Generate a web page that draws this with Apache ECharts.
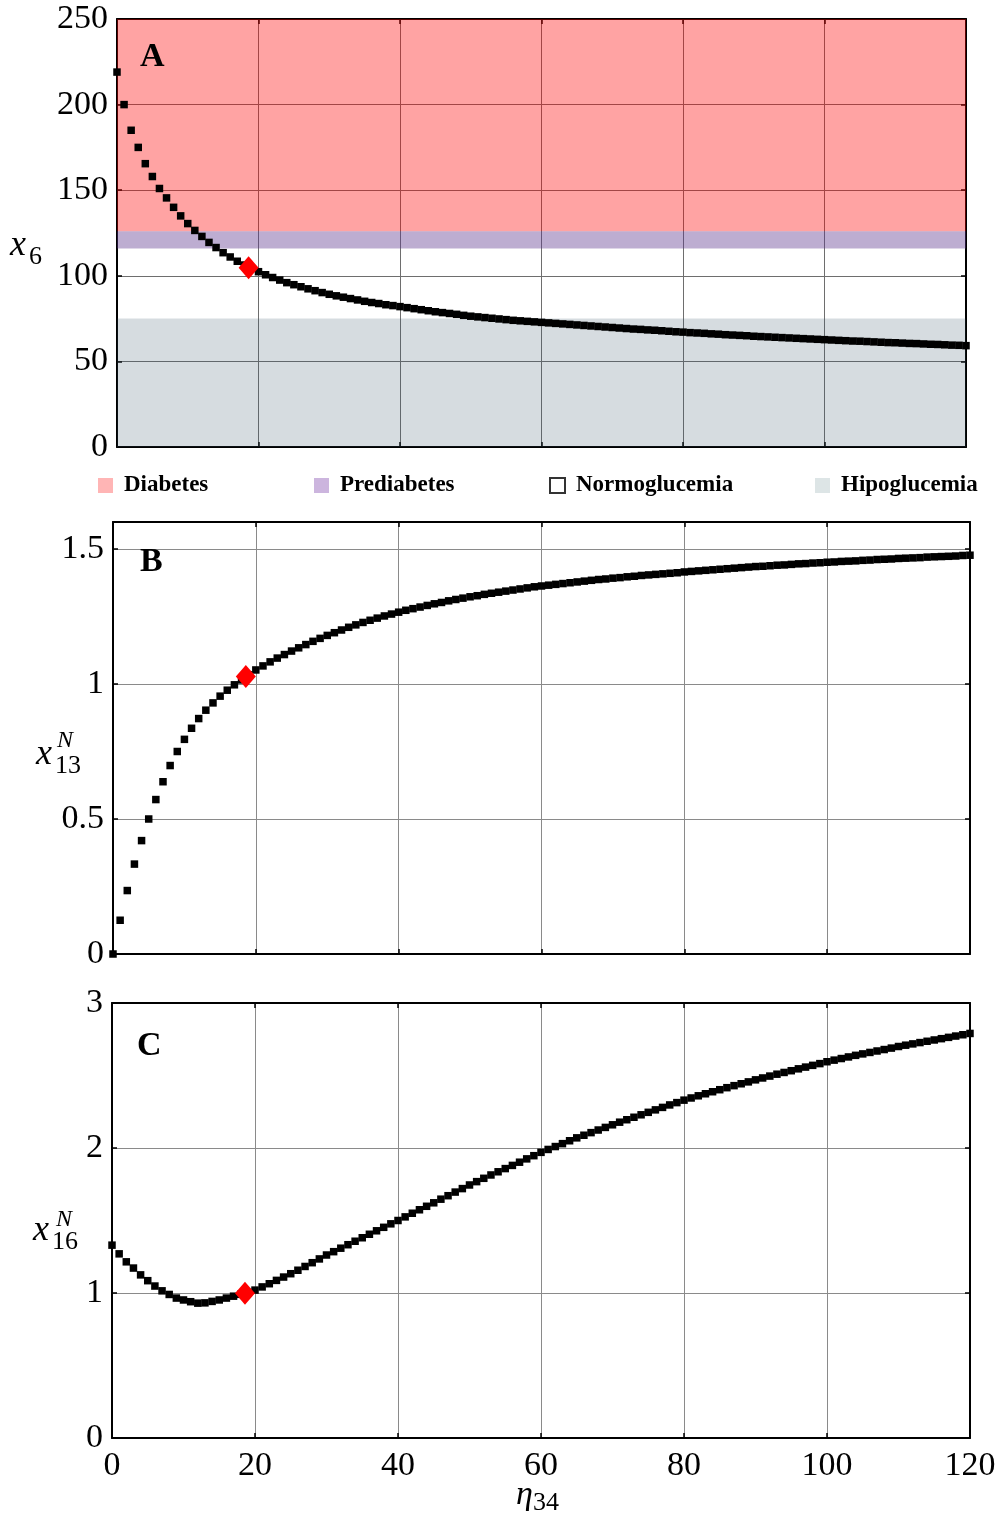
<!DOCTYPE html>
<html>
<head>
<meta charset="utf-8">
<script src="https://cdn.jsdelivr.net/npm/echarts@6/dist/echarts.min.js"></script>
<style>
html,body{margin:0;padding:0;background:#fff;}
#chart{width:1000px;height:1517px;}
</style>
</head>
<body>
<div id="chart"></div>
<script>
// ---------------- DATA ----------------
var eta = [
  0,1,2,3,4,5,6,7,8,9,
  10,11,12,13,14,15,16,17,18,19,
  20,21,22,23,24,25,26,27,28,29,
  30,31,32,33,34,35,36,37,38,39,
  40,41,42,43,44,45,46,47,48,49,
  50,51,52,53,54,55,56,57,58,59,
  60,61,62,63,64,65,66,67,68,69,
  70,71,72,73,74,75,76,77,78,79,
  80,81,82,83,84,85,86,87,88,89,
  90,91,92,93,94,95,96,97,98,99,
  100,101,102,103,104,105,106,107,108,109,
  110,111,112,113,114,115,116,117,118,119,120
];
var x6 = [
  219,200,185,175,165.5,158,151,145.5,140,135,
  130.5,126.5,123,119.5,116.5,113.5,111,108.5,106.3,104.3,
  102.4,100.6,99,97.5,96,94.8,93.6,92.4,91.3,90.2,
  89.2,88.3,87.5,86.7,85.9,85.1,84.4,83.8,83.1,82.6,
  82.0,81.4,80.8,80.2,79.6,79.0,78.5,78.0,77.5,76.9,
  76.4,76.0,75.6,75.2,74.8,74.4,74.0,73.7,73.4,73.1,
  72.8,72.5,72.2,71.9,71.6,71.3,71.0,70.7,70.4,70.1,
  69.8,69.5,69.2,68.9,68.7,68.4,68.2,67.9,67.6,67.3,
  67.1,66.8,66.6,66.4,66.1,65.9,65.6,65.4,65.2,65.0,
  64.7,64.5,64.3,64.1,63.9,63.7,63.5,63.3,63.1,62.9,
  62.7,62.5,62.3,62.1,61.9,61.8,61.6,61.4,61.2,61.0,
  60.9,60.7,60.5,60.4,60.2,60.0,59.9,59.7,59.5,59.4,59.2
];
var x13N = [
  0,0.125,0.235,0.333,0.42,0.5,0.572,0.638,0.698,0.75,
  0.795,0.836,0.872,0.903,0.93,0.955,0.977,0.997,1.015,1.034,
  1.052,1.067,1.082,1.096,1.109,1.122,1.134,1.146,1.158,1.169,
  1.18,1.19,1.2,1.21,1.219,1.228,1.236,1.244,1.252,1.259,
  1.266,1.273,1.279,1.285,1.291,1.297,1.302,1.308,1.313,1.318,
  1.323,1.327,1.332,1.336,1.34,1.344,1.348,1.352,1.356,1.36,
  1.363,1.366,1.369,1.372,1.375,1.378,1.381,1.384,1.387,1.389,
  1.392,1.394,1.397,1.399,1.402,1.404,1.406,1.408,1.41,1.412,
  1.415,1.417,1.419,1.421,1.423,1.425,1.427,1.429,1.431,1.433,
  1.435,1.436,1.438,1.44,1.441,1.443,1.445,1.446,1.448,1.449,
  1.451,1.452,1.454,1.455,1.456,1.458,1.459,1.461,1.462,1.463,
  1.465,1.466,1.467,1.468,1.47,1.471,1.472,1.473,1.474,1.476,1.477
];
var x16N = [
  1.33,1.27,1.215,1.172,1.125,1.085,1.048,1.015,0.99,0.965,
  0.952,0.94,0.93,0.932,0.942,0.952,0.965,0.978,0.991,1.004,
  1.02,1.042,1.064,1.087,1.11,1.133,1.157,1.183,1.209,1.235,
  1.262,1.285,1.309,1.333,1.357,1.381,1.405,1.429,1.453,1.477,
  1.5,1.525,1.55,1.574,1.598,1.622,1.647,1.671,1.696,1.72,
  1.745,1.768,1.791,1.814,1.836,1.858,1.88,1.902,1.925,1.947,
  1.97,1.99,2.01,2.03,2.05,2.07,2.088,2.106,2.124,2.142,
  2.16,2.178,2.195,2.212,2.229,2.246,2.263,2.28,2.297,2.313,
  2.33,2.345,2.36,2.374,2.388,2.402,2.416,2.43,2.443,2.456,
  2.47,2.483,2.496,2.509,2.521,2.533,2.546,2.558,2.57,2.582,
  2.595,2.606,2.617,2.628,2.639,2.649,2.659,2.669,2.679,2.689,
  2.7,2.709,2.718,2.727,2.736,2.745,2.754,2.763,2.772,2.781,2.79
];
// equilibrium point (red diamond)
var eqEta = 18.6;
var eqX6 = 104.7;
var eqX13N = 1.028;
var eqX16N = 0.998;
// glycemia bands for panel A
var bandNames = ['Diabetes', 'Prediabetes', 'Normoglucemia', 'Hipoglucemia'];
var bandLow  = [126, 116, null, 0];
var bandHigh = [250, 126, null, 75];
// tick settings
var xTicks = [0, 120, 20];
var yTicksA = [0, 250, 50];
var yTicksB = [0, 1.6, 0.5];
var yTicksC = [0, 3, 1];

// ---------------- STYLES ----------------
var SERIF = "'Liberation Serif', 'DejaVu Serif', serif";
var bandOverlay = ['rgba(255,0,0,0.36)', 'rgba(90,50,140,0.40)', 'rgba(255,255,255,0)', 'rgba(50,80,100,0.20)'];
var bandIcon = ['#ffa3a3', '#bfa3d6', '#ffffff', '#d5dee0'];

var grids = [
  {left: 117, top: 19, width: 849, height: 428},
  {left: 113, top: 522, width: 857, height: 432},
  {left: 112, top: 1003, width: 858, height: 435}
];
var yTicks = [yTicksA, yTicksB, yTicksC];
var gridColors = ['#6e6e6e', '#8a8a8a', '#8a8a8a'];

function xAxisPair(gi, showLabels) {
  var base = {
    type: 'value', gridIndex: gi, min: xTicks[0], max: xTicks[1], interval: xTicks[2],
    axisLine: {show: true, onZero: false, lineStyle: {color: '#000', width: 2}},
    axisTick: {show: true, inside: true, length: 5, lineStyle: {color: '#000', width: 1.5}}
  };
  var bottom = Object.assign({}, base, {
    position: 'bottom',
    axisLabel: {show: showLabels, color: '#000', fontFamily: SERIF, fontSize: 34, margin: 11},
    splitLine: {show: true, lineStyle: {color: gridColors[gi], width: 1}}
  });
  var top = Object.assign({}, base, {
    position: 'top', axisLabel: {show: false}, splitLine: {show: false}
  });
  return [bottom, top];
}
function yAxisPair(gi, t) {
  var base = {
    type: 'value', gridIndex: gi, min: t[0], max: t[1], interval: t[2],
    axisLine: {show: true, onZero: false, lineStyle: {color: '#000', width: 2}},
    axisTick: {show: true, inside: true, length: 5, lineStyle: {color: '#000', width: 1.5}}
  };
  var left = Object.assign({}, base, {
    position: 'left',
    axisLabel: {
      show: true, color: '#000', fontFamily: SERIF, fontSize: 34, margin: 9,
      formatter: function (v) {
        var k = Math.round((v - t[0]) / t[2] * 1000) / 1000;
        return (k === Math.round(k)) ? String(v) : '';
      }
    },
    splitLine: {show: true, lineStyle: {color: gridColors[gi], width: 1}}
  });
  var right = Object.assign({}, base, {
    position: 'right', axisLabel: {show: false}, splitLine: {show: false}
  });
  return [left, right];
}

var xAxes = [], yAxes = [];
for (var g = 0; g < 3; g++) {
  xAxes = xAxes.concat(xAxisPair(g, g === 2));
  yAxes = yAxes.concat(yAxisPair(g, yTicks[g]));
}

function pairs(xs, ys) {
  var out = [];
  for (var i = 0; i < xs.length; i++) out.push([xs[i], ys[i]]);
  return out;
}

var series = [];
var curves = [x6, x13N, x16N];
var eqs = [eqX6, eqX13N, eqX16N];
for (var g2 = 0; g2 < 3; g2++) {
  series.push({
    type: 'scatter', xAxisIndex: 2 * g2, yAxisIndex: 2 * g2,
    data: pairs(eta, curves[g2]),
    symbol: 'rect', symbolSize: 7.5, clip: false, z: 2,
    itemStyle: {color: '#000', opacity: 1}, silent: true
  });
  series.push({
    type: 'scatter', xAxisIndex: 2 * g2, yAxisIndex: 2 * g2,
    data: [[eqEta, eqs[g2]]],
    symbol: 'diamond', symbolSize: [20, 23], clip: false, z: 10,
    itemStyle: {color: '#ff0000', opacity: 1}, silent: true
  });
}
// band overlays (drawn above points, translucent)
for (var b = 0; b < bandNames.length; b++) {
  var s = {
    name: bandNames[b], type: 'scatter', xAxisIndex: 0, yAxisIndex: 0,
    data: [], z: 5, silent: true,
    itemStyle: {color: bandIcon[b]}
  };
  if (bandLow[b] !== null) {
    s.markArea = {
      silent: true,
      itemStyle: {color: bandOverlay[b], borderWidth: 0},
      data: [[{yAxis: bandLow[b]}, {yAxis: bandHigh[b]}]]
    };
  }
  series.push(s);
}

var legendLeft = [98, 314, 549, 815];
var legends = [];
for (var l = 0; l < bandNames.length; l++) {
  var item = {name: bandNames[l], icon: 'rect', itemStyle: {color: bandIcon[l], borderWidth: 0}};
  if (bandNames[l] === 'Normoglucemia') {
    item.itemStyle = {color: '#ffffff', borderColor: '#000', borderWidth: 2};
  }
  legends.push({
    left: legendLeft[l], top: 474, orient: 'horizontal',
    itemWidth: 15, itemHeight: 15, padding: 0, selectedMode: false,
    data: [item],
    textStyle: {color: '#000', fontFamily: SERIF, fontWeight: 'bold', fontSize: 23, padding: [0, 0, 0, 6]}
  });
}

function txt(str, x, y, size, style, weight) {
  return {
    type: 'text', left: x, top: y, silent: true, z: 100,
    style: {text: str, fill: '#000', font: (style || 'normal') + ' ' + (weight || 'normal') + ' ' + size + 'px ' + SERIF,
            textVerticalAlign: 'top'}
  };
}

var graphics = [
  // panel letters
  txt('A', 140, 40, 34, 'normal', 'bold'),
  txt('B', 140, 545, 34, 'normal', 'bold'),
  txt('C', 137, 1029, 34, 'normal', 'bold'),
  // panel A y label x_6
  txt('x', 10, 228, 36, 'italic'),
  txt('6', 29, 244, 26),
  // panel B y label x^N_13
  txt('x', 36, 737, 36, 'italic'),
  txt('N', 57, 729, 24, 'italic'),
  txt('13', 55, 753, 26),
  // panel C y label x^N_16
  txt('x', 33, 1213, 36, 'italic'),
  txt('N', 56, 1208, 24, 'italic'),
  txt('16', 52, 1229, 26),
  // x label eta_34
  txt('η', 516, 1478, 34, 'italic'),
  txt('34', 533, 1490, 26)
];

var chart = echarts.init(document.getElementById('chart'), null, {renderer: 'canvas'});
chart.setOption({
  animation: false,
  backgroundColor: '#ffffff',
  grid: grids.map(function (g) { return Object.assign({containLabel: false}, g); }),
  xAxis: xAxes,
  yAxis: yAxes,
  legend: legends,
  series: series,
  graphic: graphics
});
</script>
</body>
</html>
